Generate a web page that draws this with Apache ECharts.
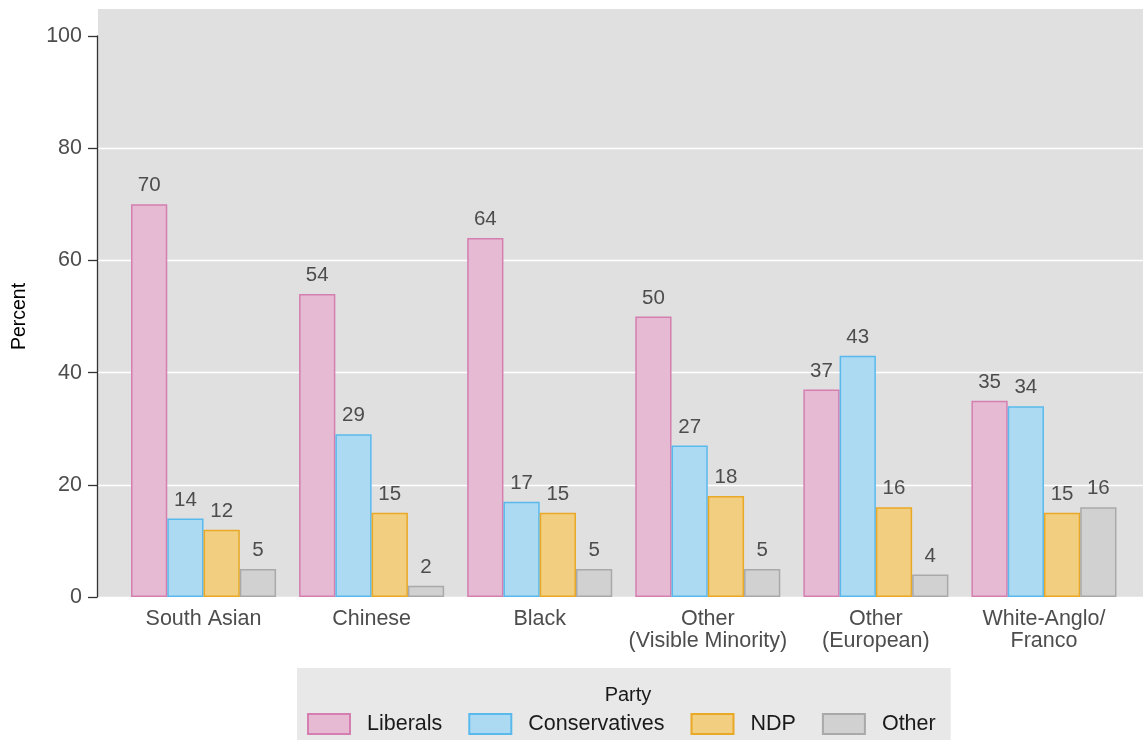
<!DOCTYPE html>
<html>
<head>
<meta charset="utf-8">
<script src="https://cdn.jsdelivr.net/npm/echarts@6/dist/echarts.min.js"></script>
<style>html,body{margin:0;padding:0;background:#fff;}#c{width:1143px;height:740px;}</style>
</head>
<body>
<div id="c"></div>
<script>
const categories = ['South Asian', 'Chinese', 'Black', 'Other\n(Visible Minority)', 'Other\n(European)', 'White-Anglo/\nFranco'];
const liberals = [70, 54, 64, 50, 37, 35];
const conservatives = [14, 29, 17, 27, 43, 34];
const ndp = [12, 15, 15, 18, 16, 15];
const other = [5, 2, 5, 5, 4, 16];
const yTicks = [0, 20, 40, 60, 80, 100];
const gridTicks = [20, 40, 60, 80];

const FONT = '"Liberation Sans", Arial, Helvetica, sans-serif';
const chart = echarts.init(document.getElementById('c'), null, { renderer: 'canvas' });

function barSeries(name, data, fill, border) {
  return {
    name, type: 'bar', data, xAxisIndex: 2, yAxisIndex: 2,
    barGap: '0%', barCategoryGap: '13.7%',
    itemStyle: { color: fill, borderColor: border, borderWidth: 1.5 },
    label: { show: true, position: 'top', distance: 8, fontSize: 20.5, color: '#4d4d4d', fontFamily: FONT },
    emphasis: { disabled: true }
  };
}

chart.setOption({
  animation: false,
  backgroundColor: '#ffffff',
  textStyle: { fontFamily: FONT },
  title: {
    text: 'Party', left: 623, top: 680, textAlign: 'center',
    textStyle: { fontSize: 20, fontWeight: 'normal', color: '#1a1a1a', fontFamily: FONT }
  },
  legend: {
    left: 297, top: 668,
    padding: [45, 15, 8, 10],
    backgroundColor: '#e8e8e8',
    itemWidth: 42, itemHeight: 20, itemGap: 26, icon: 'rect',
    textStyle: { fontSize: 21.5, color: '#1a1a1a', fontFamily: FONT, padding: [0, 0, 0, 12] },
    selectedMode: false,
    data: ['Liberals', 'Conservatives', 'NDP', 'Other']
  },
  grid: [
    { left: 98, right: 0, top: 9, bottom: 143, show: true, backgroundColor: '#e0e0e0', borderWidth: 0 },
    { left: 98, right: 0, top: 148.2, bottom: 143 },
    { left: 119.5, right: 15, top: 36, bottom: 143 }
  ],
  xAxis: [
    { gridIndex: 0, type: 'value', show: false, min: 0, max: 1 },
    { gridIndex: 1, type: 'value', show: false, min: 0, max: 1 },
    {
      gridIndex: 2, type: 'category', data: categories,
      axisLine: { show: false }, axisTick: { show: false },
      axisLabel: { margin: 11, fontSize: 21.5, lineHeight: 22, color: '#4d4d4d', fontFamily: FONT, interval: 0 }
    }
  ],
  yAxis: [
    { gridIndex: 0, type: 'value', show: false, min: 0, max: 1 },
    {
      gridIndex: 1, type: 'value', min: 0, max: gridTicks[gridTicks.length - 1], interval: 20,
      axisLine: { show: false }, axisTick: { show: false }, axisLabel: { show: false },
      splitLine: { show: true, lineStyle: { color: '#ffffff', width: 1.3 } }
    },
    {
      gridIndex: 2, type: 'value', min: yTicks[0], max: yTicks[yTicks.length - 1], interval: 20,
      offset: 22.5,
      name: 'Percent', nameLocation: 'middle', nameGap: 67, nameRotate: 90,
      nameTextStyle: { fontSize: 19.5, color: '#000', fontFamily: FONT },
      axisLine: { show: true, lineStyle: { color: '#333', width: 1.3 } },
      axisTick: { show: true, length: 9, lineStyle: { color: '#333', width: 1.3 } },
      axisLabel: { margin: 15, fontSize: 21.5, color: '#4d4d4d', fontFamily: FONT },
      splitLine: { show: false }
    }
  ],
  series: [
    barSeries('Liberals', liberals, '#e6bad3', '#d47fb0'),
    barSeries('Conservatives', conservatives, '#acdaf3', '#5ab9ec'),
    barSeries('NDP', ndp, '#f2cf80', '#e9a825'),
    barSeries('Other', other, '#d1d1d1', '#a9a9a9')
  ]
});
</script>
</body>
</html>
